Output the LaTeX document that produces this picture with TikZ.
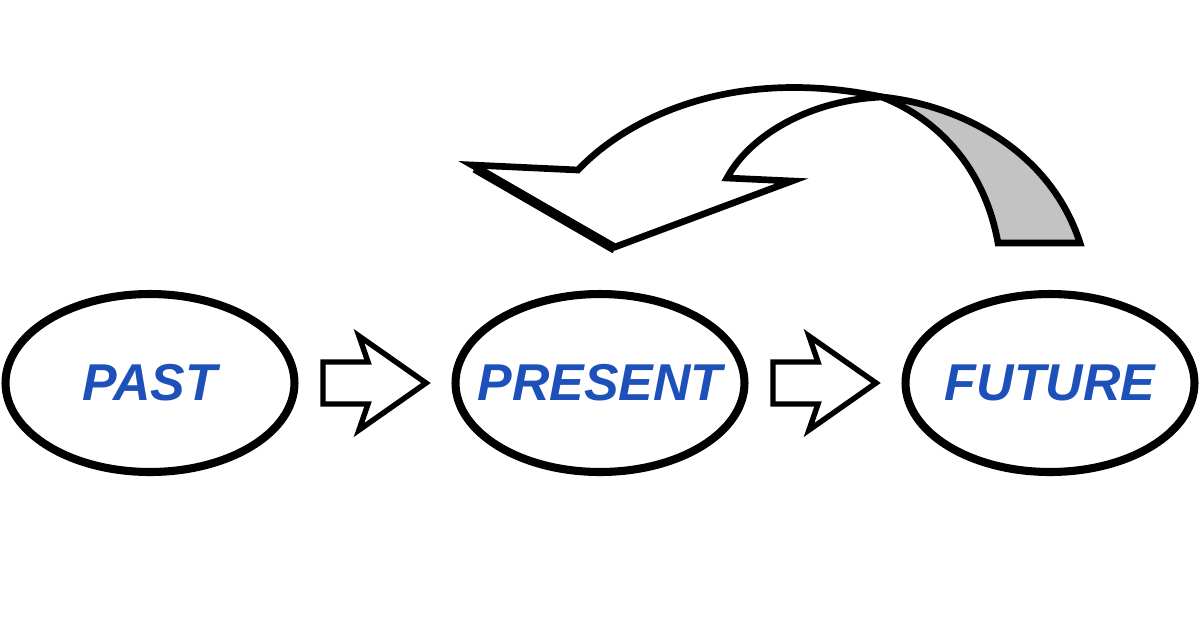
\documentclass[tikz,border=0pt]{standalone}
\usepackage{fontspec}
\setmainfont{Liberation Sans}
\usetikzlibrary{shapes.geometric,calc}
\definecolor{timeblue}{RGB}{30,80,185}
\definecolor{ribbongray}{RGB}{195,195,195}
\tikzset{
  stage/.style={ellipse, draw=black, line width=4.6pt, fill=white,
                minimum width=5.78cm, minimum height=3.56cm, inner sep=0pt,
                font=\fontsize{29.5}{32}\selectfont\bfseries\itshape, text=timeblue},
  outline/.style={draw=black, line width=3.1pt, line join=miter, fill=white},
  ribbon/.style={draw=black, line width=3.8pt, line join=miter},
  fatarrow/.pic={
    \draw[outline] (-52,-21) -- (-7,-21) -- (-16,-47) -- (51,0) -- (-16,47)
                   -- (-7,21) -- (-52,21) -- cycle;
  },
}

\begin{document}
\begin{tikzpicture}[x=0.02cm, y=-0.02cm]
\path[use as bounding box, fill=white] (0,0) rectangle (1200,630);

% the three stages
\node[stage] (past)    at (150,383)  {\makebox[0pt]{PAST}};
\node[stage] (present) at (600,383)  {\makebox[0pt]{PRESENT}};
\node[stage] (future)  at (1050,383) {\makebox[0pt]{FUTURE}};

% block arrows in between
\pic at ($(past)!0.5!(present)$)   {fatarrow};
\pic at ($(present)!0.5!(future)$) {fatarrow};

% curved ribbon arrow, future back to present
\coordinate (fold)  at (882,97);
\coordinate (wingL) at (472,165);
\coordinate (tip)   at (615,247);
\coordinate (wingR) at (792,181);
\coordinate (notch) at (727,178);

\draw[ribbon, fill=ribbongray] (fold) .. controls (960,105) and (1050,150) .. (1080,243)
  -- (998,243) .. controls (985,170) and (940,120) .. (fold) -- cycle;
\draw[ribbon, fill=white] (578,170) -- (wingL) -- (tip) -- (wingR) -- (notch)
  .. controls (750,135) and (810,100) .. (fold)
  .. controls (730,65) and (625,120) .. (578,170) -- cycle;
\draw[line width=5.5pt] ($(wingL)+(3,3)$) -- ($(tip)+(0,2)$);
\end{tikzpicture}
\end{document}
